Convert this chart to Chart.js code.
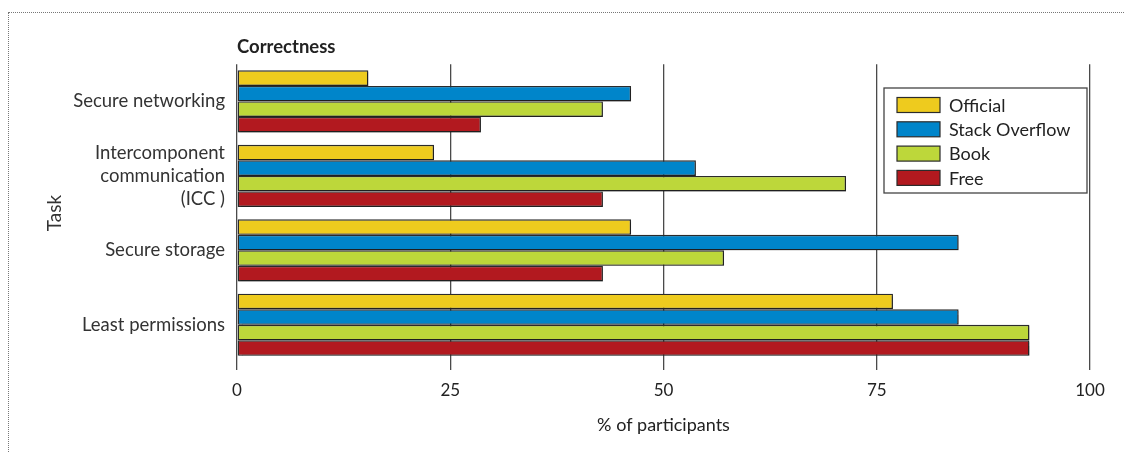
<!DOCTYPE html>
<html><head><meta charset="utf-8">
<script src="https://cdn.jsdelivr.net/npm/chart.js@4.4.1/dist/chart.umd.min.js"></script>
<style>
html,body{margin:0;padding:0;background:#fff;overflow:hidden}
#wrap{position:relative;width:1125px;height:453px;background:#fff}
#frame{position:absolute;left:8px;top:12px;width:1140px;height:470px;border:1px dotted #777;pointer-events:none}
canvas{position:absolute;left:0;top:0}
</style></head><body>
<div id="wrap"><canvas id="c" width="1125" height="453"></canvas><div id="frame"></div></div>
<script>
const categories = [["Secure networking"], ["Intercomponent", "communication", "(ICC )"], ["Secure storage"], ["Least permissions"]];
const seriesNames = ["Official", "Stack Overflow", "Book", "Free"];
const official = [15.4, 23.1, 46.2, 76.9];
const stackOverflow = [46.2, 53.8, 84.6, 84.6];
const book = [42.9, 71.4, 57.1, 92.9];
const free = [28.6, 42.9, 42.9, 92.9];
const xTicks = [0, 25, 50, 75, 100];
const colors = ["#EECB1E", "#0085CA", "#BDD73A", "#B2191F"];

const FONT = "Lato, 'Open Sans', sans-serif";
const seriesValues = [official, stackOverflow, book, free];

const shadowPlugin = {
  id: 'barShadow',
  beforeDatasetsDraw(chart) {
    const ctx = chart.ctx;
    ctx.save();
    ctx.shadowColor = 'rgba(0,0,0,0.28)';
    ctx.shadowOffsetX = 1.5;
    ctx.shadowOffsetY = 1.5;
    ctx.shadowBlur = 1;
  },
  afterDatasetsDraw(chart) { chart.ctx.restore(); }
};

const boxLegend = {
  id: 'boxLegend',
  afterDraw(chart) {
    const ctx = chart.ctx;
    const bx = 884, by = 88, bw = 203, bh = 105;
    ctx.save();
    ctx.fillStyle = '#fff';
    ctx.fillRect(bx, by, bw, bh);
    ctx.strokeStyle = '#444';
    ctx.lineWidth = 1.3;
    ctx.strokeRect(bx, by, bw, bh);
    ctx.font = "18px " + FONT;
    ctx.textBaseline = 'middle';
    chart.data.datasets.forEach((ds, i) => {
      const cy = by + 17 + i * 24.3;
      ctx.fillStyle = ds.backgroundColor;
      ctx.fillRect(897, cy - 7.5, 43, 15);
      ctx.strokeStyle = '#2b2b2b';
      ctx.lineWidth = 1.2;
      ctx.strokeRect(897, cy - 7.5, 43, 15);
      ctx.fillStyle = '#222';
      ctx.fillText(ds.label, 949, cy + 1);
    });
    ctx.restore();
  }
};

new Chart(document.getElementById('c'), {
  type: 'bar',
  data: {
    labels: categories,
    datasets: seriesNames.map((name, i) => ({
      label: name,
      data: seriesValues[i],
      backgroundColor: colors[i],
      borderColor: '#2b2b2b',
      borderWidth: 1.4,
      borderSkipped: false,
      categoryPercentage: 0.835,
      barPercentage: 1.0
    }))
  },
  options: {
    indexAxis: 'y',
    responsive: false,
    animation: false,
    devicePixelRatio: 1,
    layout: { padding: { left: 0, right: 35, top: 0, bottom: 0 } },
    plugins: {
      legend: { display: false },
      tooltip: { enabled: false },
      title: {
        display: true, text: 'Correctness', align: 'start', fullSize: false,
        font: { family: FONT, size: 18.5, weight: 'bold' }, color: '#222',
        padding: { top: 36, bottom: 6 }
      }
    },
    scales: {
      x: {
        type: 'linear', position: 'bottom', min: 0, max: 100,
        afterBuildTicks: s => { s.ticks = xTicks.map(v => ({ value: v })); },
        grid: { color: '#4a4a4a', lineWidth: 1.3, tickLength: 8, drawTicks: true },
        border: { display: false },
        ticks: { padding: 10, font: { family: FONT, size: 17 }, color: '#222' },
        title: { display: true, text: '% of participants', font: { family: FONT, size: 18 }, color: '#222', padding: { top: 0, bottom: 17 } },
        afterFit: s => { s.height = 91; }
      },
      y: {
        type: 'category',
        grid: { display: false, drawTicks: false },
        border: { display: false },
        ticks: { padding: 12, font: { family: FONT, size: 18.5, lineHeight: 1.25 }, color: '#333' },
        title: { display: true, text: 'Task', font: { family: FONT, size: 19 }, color: '#333', padding: { top: 43, bottom: 0 } },
        afterFit: s => { s.width = 237; }
      }
    }
  },
  plugins: [shadowPlugin, boxLegend]
});
</script>
</body></html>
